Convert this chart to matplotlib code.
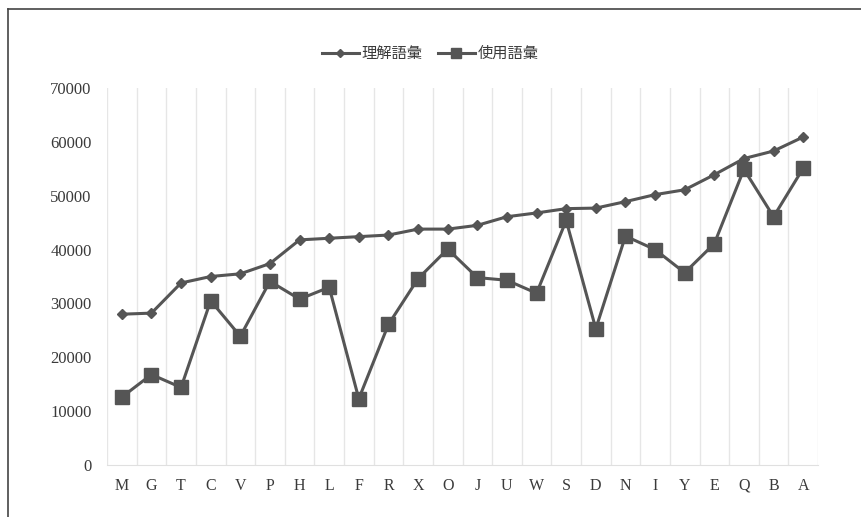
import numpy as np
import matplotlib.pyplot as plt
from matplotlib.lines import Line2D

plt.rcParams['font.family'] = ['Liberation Serif', 'Noto Sans CJK JP']

cats = ['M', 'G', 'T', 'C', 'V', 'P', 'H', 'L', 'F', 'R', 'X', 'O',
        'J', 'U', 'W', 'S', 'D', 'N', 'I', 'Y', 'E', 'Q', 'B', 'A']
receptive = [28000, 28200, 33800, 35000, 35500, 37400, 41800, 42100, 42400, 42700, 43800, 43800,
             44500, 46100, 46800, 47600, 47700, 48900, 50200, 51100, 53900, 56900, 58300, 60900]
productive = [12600, 16800, 14400, 30500, 23900, 34100, 30800, 33000, 12300, 26100, 34600, 40100,
              34800, 34300, 31900, 45400, 25300, 42500, 40000, 35700, 41100, 54900, 46100, 55100]
labels = ['理解語彙', '使用語彙']

ink = '#555555'
txt = '#3a3a3a'

fig = plt.figure(figsize=(8.61, 5.17), dpi=100)
ax = fig.add_axes([107 / 861, 1 - 465 / 517, 711 / 861, 377 / 517])

x = np.arange(len(cats))
ax.plot(x, receptive, color=ink, lw=2.2, marker='D', ms=5.5, label=labels[0])
ax.plot(x, productive, color=ink, lw=2.2, marker='s', ms=9.5, label=labels[1])

ax.set_xlim(-0.5, len(cats) - 0.5)
ax.set_ylim(0, 70000)
ax.set_yticks(np.arange(0, 70001, 10000))
ax.set_yticklabels([str(v) for v in range(0, 70001, 10000)])
ax.set_xticks(x)
ax.set_xticklabels(cats)
ax.set_xticks(np.arange(-0.5, len(cats), 1), minor=True)
ax.grid(True, which='minor', axis='x', color='#e6e6e6', lw=1.0)
ax.tick_params(which='both', length=0)
ax.tick_params(axis='y', labelsize=12, colors=txt, pad=11)
ax.tick_params(axis='x', labelsize=11.5, colors=txt, pad=9)
for s in ['top', 'right', 'left']:
    ax.spines[s].set_visible(False)
ax.spines['bottom'].set_color('#e0e0e0')

handles = [Line2D([], [], color=ink, lw=2.2, marker='D', ms=4),
           Line2D([], [], color=ink, lw=2.2, marker='s', ms=7)]
fig.legend(handles, labels, loc='center', bbox_to_anchor=(0.5, 1 - 54 / 517),
           ncol=2, frameon=False, fontsize=11, handlelength=2.4,
           columnspacing=1.0, handletextpad=0.2, labelcolor=txt)

# page frame on the top and left
fig.add_artist(Line2D([8 / 861, 1], [1 - 9 / 517] * 2, color='#444444', lw=1.2,
                      transform=fig.transFigure))
fig.add_artist(Line2D([8 / 861] * 2, [0, 1 - 9 / 517], color='#444444', lw=1.2,
                      transform=fig.transFigure))

fig.savefig('out.png', dpi=100)
